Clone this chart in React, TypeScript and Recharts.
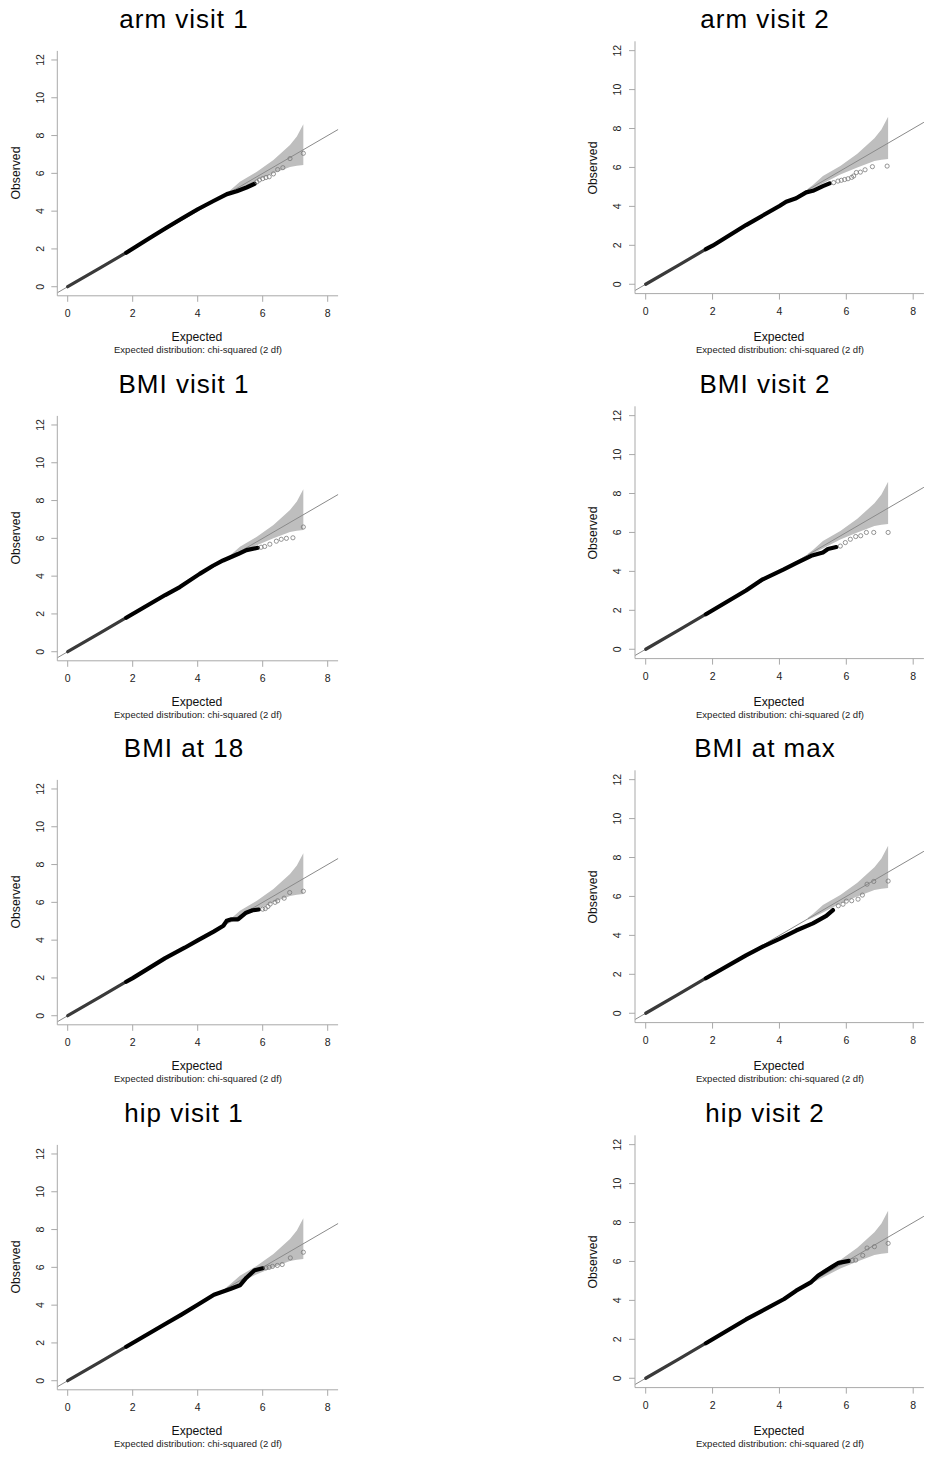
import React from 'react'
import { ComposedChart, Line, Area, XAxis, YAxis, ReferenceLine } from 'recharts'

type Pt = [number, number]

const FONT = '"Liberation Sans", Arial, Helvetica, sans-serif'

const X_TICKS = [0, 2, 4, 6, 8]
const Y_TICKS = [0, 2, 4, 6, 8, 10, 12]
const X_DOMAIN: [number, number] = [-0.32, 8.32]
const Y_DOMAIN: [number, number] = [-0.48, 12.48]

// confidence band around the diagonal (same for all panels)
const BAND_X = [4.85, 5.0, 5.3, 5.82, 6.33, 6.84, 7.05, 7.25]
const BAND_LOW = [4.8, 4.92, 5.18, 5.64, 6.0, 6.33, 6.4, 6.44]
const BAND_HIGH = [4.9, 5.1, 5.56, 6.08, 6.7, 7.5, 7.95, 8.6]

// dense part of each qq curve (expected, observed)
const armVisit1: Pt[] = [[0, 0], [1, 1], [1.8, 1.8], [2.5, 2.55], [3, 3.08], [3.5, 3.6], [4, 4.1], [4.5, 4.55], [4.9, 4.9], [5.2, 5.05], [5.5, 5.25], [5.75, 5.45]]
const armVisit2: Pt[] = [[0, 0], [1, 1], [1.8, 1.8], [2, 1.98], [3, 3.04], [4, 4.02], [4.2, 4.24], [4.5, 4.42], [4.8, 4.72], [5.0, 4.8], [5.3, 5.04], [5.5, 5.18]]
const bmiVisit1: Pt[] = [[0, 0], [1, 1], [1.8, 1.8], [3, 3.0], [3.45, 3.42], [4.06, 4.12], [4.47, 4.55], [4.78, 4.83], [5.24, 5.17], [5.5, 5.38], [5.85, 5.5]]
const bmiVisit2: Pt[] = [[0, 0], [1, 1], [1.8, 1.8], [3, 3.02], [3.5, 3.59], [4.13, 4.1], [4.5, 4.42], [4.95, 4.8], [5.3, 4.97], [5.45, 5.15], [5.7, 5.25]]
const bmiAt18: Pt[] = [[0, 0], [1, 1], [1.8, 1.8], [2, 1.99], [3, 3.05], [3.6, 3.6], [4, 3.99], [4.49, 4.45], [4.79, 4.76], [4.89, 5.02], [5.04, 5.1], [5.24, 5.1], [5.49, 5.45], [5.69, 5.58], [5.88, 5.62]]
const bmiAtMax: Pt[] = [[0, 0], [1, 1], [1.8, 1.8], [3, 2.97], [3.5, 3.42], [4, 3.82], [4.5, 4.25], [5, 4.62], [5.4, 5.0], [5.6, 5.3]]
const hipVisit1: Pt[] = [[0, 0], [1, 1], [1.8, 1.8], [3, 3.0], [3.5, 3.5], [4, 4.02], [4.5, 4.55], [5, 4.85], [5.3, 5.05], [5.5, 5.45], [5.75, 5.85], [6.0, 5.95]]
const hipVisit2: Pt[] = [[0, 0], [1, 1], [1.8, 1.8], [3, 3.02], [4.14, 4.07], [4.5, 4.5], [4.95, 4.94], [5.16, 5.28], [5.57, 5.72], [5.77, 5.93], [6.08, 6.03]]

// sparse upper tail, drawn as open circles
const armVisit1Tail: Pt[] = [[5.82, 5.55], [5.9, 5.65], [6.0, 5.72], [6.1, 5.78], [6.2, 5.82], [6.33, 5.97], [6.46, 6.2], [6.62, 6.3], [6.84, 6.78], [7.25, 7.06]]
const armVisit2Tail: Pt[] = [[5.62, 5.22], [5.75, 5.3], [5.85, 5.34], [5.95, 5.38], [6.05, 5.42], [6.16, 5.49], [6.22, 5.56], [6.3, 5.74], [6.42, 5.76], [6.56, 5.88], [6.78, 6.04], [7.22, 6.07]]
const bmiVisit1Tail: Pt[] = [[5.95, 5.53], [6.06, 5.57], [6.22, 5.69], [6.42, 5.85], [6.57, 5.95], [6.73, 6.0], [6.93, 6.03], [7.25, 6.6]]
const bmiVisit2Tail: Pt[] = [[5.82, 5.3], [5.97, 5.48], [6.12, 5.65], [6.28, 5.79], [6.43, 5.83], [6.6, 6.0], [6.82, 6.0], [7.25, 6.0]]
const bmiAt18Tail: Pt[] = [[6.0, 5.64], [6.08, 5.67], [6.16, 5.78], [6.23, 5.91], [6.38, 6.0], [6.46, 6.08], [6.66, 6.22], [6.83, 6.52], [7.25, 6.59]]
const bmiAtMaxTail: Pt[] = [[5.76, 5.52], [5.9, 5.6], [6.0, 5.76], [6.16, 5.78], [6.35, 5.86], [6.48, 6.07], [6.62, 6.63], [6.82, 6.77], [7.25, 6.79]]
const hipVisit1Tail: Pt[] = [[6.1, 5.97], [6.2, 6.0], [6.3, 6.05], [6.45, 6.1], [6.6, 6.15], [6.85, 6.5], [7.25, 6.8]]
const hipVisit2Tail: Pt[] = [[6.18, 6.05], [6.28, 6.07], [6.49, 6.31], [6.62, 6.69], [6.84, 6.76], [7.25, 6.93]]

const PANELS = [
  { title: 'arm visit 1', curve: armVisit1, tail: armVisit1Tail },
  { title: 'arm visit 2', curve: armVisit2, tail: armVisit2Tail },
  { title: 'BMI visit 1', curve: bmiVisit1, tail: bmiVisit1Tail },
  { title: 'BMI visit 2', curve: bmiVisit2, tail: bmiVisit2Tail },
  { title: 'BMI at 18', curve: bmiAt18, tail: bmiAt18Tail },
  { title: 'BMI at max', curve: bmiAtMax, tail: bmiAtMaxTail },
  { title: 'hip visit 1', curve: hipVisit1, tail: hipVisit1Tail },
  { title: 'hip visit 2', curve: hipVisit2, tail: hipVisit2Tail },
]

const W = 463
const H = 364
const ROW_PITCH = 364.7
const YW = 40
const XH = 30
const SPLIT = 1.8

const COLUMNS = [
  { left: 0, plotLeft: 57.3, plotRight: 338.1, plotTop: 50.9, plotBottom: 295.8, titleX: 184, obsX: 20, obsY: 173, expX: 197 },
  { left: 463, plotLeft: 172, plotRight: 460.9, plotTop: 41.3, plotBottom: 293.6, titleX: 302, obsX: 134, obsY: 168, expX: 316 },
]

const toRows = (pts: Pt[]) => pts.map(([x, y]) => ({ x, y }))
const bandRows = BAND_X.map((x, i) => ({ x, band: [BAND_LOW[i], BAND_HIGH[i]] }))

const YTick = (props: any) => {
  const { x, y, payload } = props
  const tx = x - 5.5
  return (
    <text x={tx} y={y} transform={`rotate(-90, ${tx}, ${y})`} textAnchor="middle"
      fontSize={10.5} fill="#222" fontFamily={FONT}>
      {payload.value}
    </text>
  )
}

const QQPanel = ({ index }: { index: number }) => {
  const p = PANELS[index]
  const col = COLUMNS[index % 2]
  const top = Math.floor(index / 2) * ROW_PITCH
  const margin = {
    left: col.plotLeft - YW,
    right: W - col.plotRight,
    top: col.plotTop,
    bottom: H - col.plotBottom - XH,
  }
  const lower = toRows(p.curve.filter(([x]) => x <= SPLIT))
  const upper = toRows(p.curve.filter(([x]) => x >= SPLIT))

  return (
    <div style={{ position: 'absolute', left: col.left, top, width: W, height: H }}>
      <ComposedChart width={W} height={H} margin={margin}>
        <XAxis type="number" dataKey="x" domain={X_DOMAIN} ticks={X_TICKS} allowDataOverflow
          height={XH} stroke="#a9a9a9" tickSize={6} tickMargin={8}
          tick={{ fontSize: 10.5, fill: '#222', fontFamily: FONT }} />
        <YAxis type="number" domain={Y_DOMAIN} ticks={Y_TICKS} allowDataOverflow
          width={YW} stroke="#a9a9a9" tickSize={6} tick={<YTick />} />
        <Area data={bandRows} dataKey="band" type="linear" fill="#bebebe" fillOpacity={1}
          stroke="none" isAnimationActive={false} />
        <ReferenceLine segment={[{ x: X_DOMAIN[0], y: X_DOMAIN[0] }, { x: X_DOMAIN[1], y: X_DOMAIN[1] }]}
          stroke="#8a8a8a" strokeWidth={1} />
        <Line data={lower} dataKey="y" type="linear" stroke="#3a3a3a" strokeWidth={3.2}
          strokeLinecap="round" dot={false} activeDot={false} isAnimationActive={false} />
        <Line data={upper} dataKey="y" type="linear" stroke="#000" strokeWidth={4.2}
          strokeLinecap="round" strokeLinejoin="round" dot={false} activeDot={false} isAnimationActive={false} />
        <Line data={toRows(p.tail)} dataKey="y" stroke="none" activeDot={false}
          dot={{ r: 2.1, fill: 'none', stroke: '#7a7a7a', strokeWidth: 0.8 }} isAnimationActive={false} />
      </ComposedChart>
      <svg width={W} height={H} style={{ position: 'absolute', left: 0, top: 0, pointerEvents: 'none' }}
        fontFamily={FONT}>
        <text x={col.titleX} y={28.3} textAnchor="middle" fontSize={26} letterSpacing={1} fill="#000">{p.title}</text>
        <text x={col.obsX} y={col.obsY} transform={`rotate(-90, ${col.obsX}, ${col.obsY})`} textAnchor="middle"
          fontSize={12.2} fill="#111">Observed</text>
        <text x={col.expX} y={341} textAnchor="middle" fontSize={12.2} fill="#111">Expected</text>
        <text x={col.expX + 1} y={353} textAnchor="middle" fontSize={9.5} fill="#222">
          Expected distribution: chi-squared (2 df)
        </text>
      </svg>
    </div>
  )
}

export default function App() {
  return (
    <div style={{ position: 'absolute', left: 0, top: 0, width: 926, height: 1458, background: '#fff' }}>
      {PANELS.map((_, i) => <QQPanel key={i} index={i} />)}
    </div>
  )
}
